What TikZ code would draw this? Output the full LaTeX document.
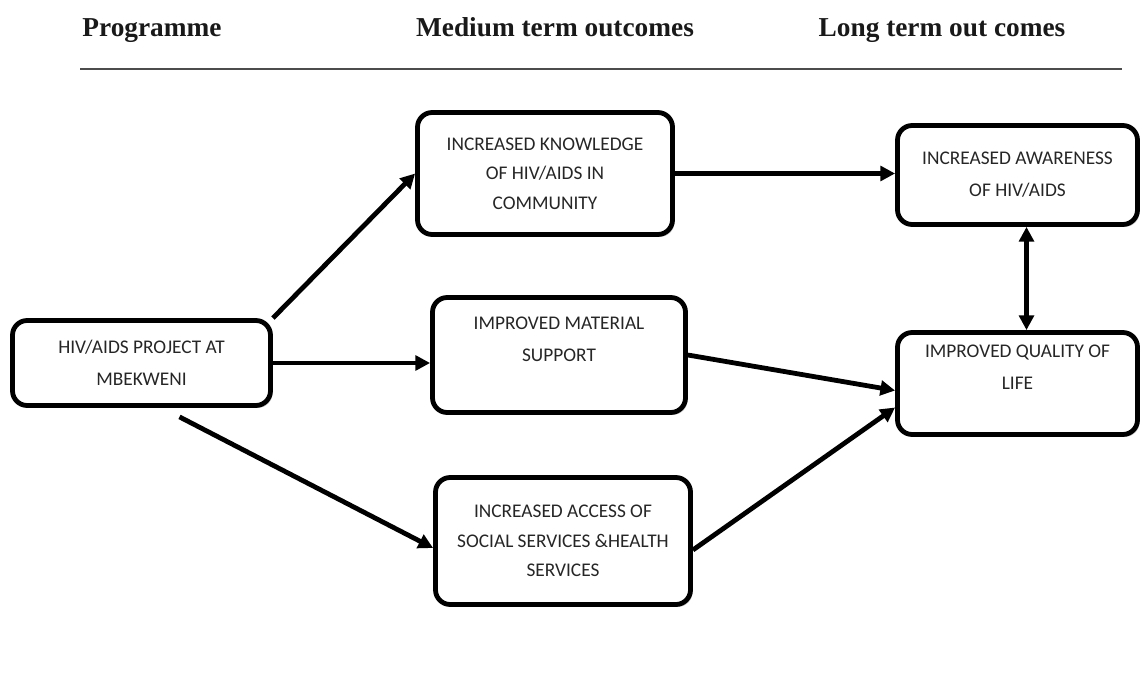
\documentclass[tikz,border=0pt]{standalone}
\usepackage{fontspec}
\setmainfont{Carlito}
\newfontfamily\headfont{Liberation Serif}
\usetikzlibrary{arrows.meta, positioning, calc, shadows}

\tikzset{
  outbox/.style={draw=black, line width=3.6pt, rounded corners=11pt, fill=white,
    drop shadow={shadow xshift=1.5pt, shadow yshift=-1.8pt, opacity=.45, fill=gray},
    align=center, font=\fontsize{14.5}{24}\selectfont, text=black!85},
  tightbox/.style={outbox, font=\fontsize{14.5}{22}\selectfont},
  headtext/.style={anchor=base, font=\headfont\bfseries\fontsize{20.5}{22}\selectfont, text=black!90},
  link/.style={line width=3.6pt, -{Triangle[length=11pt, width=11pt]}},
  twolink/.style={line width=3.6pt, {Triangle[length=11pt, width=11pt]}-{Triangle[length=11pt, width=11pt]}}
}

\begin{document}
\begin{tikzpicture}[x=0.75pt, y=-0.75pt]
  \useasboundingbox (0,0) rectangle (1142,681);

  % Column headings
  \node[headtext] (hprog) at (152,37) {Programme};
  \node[headtext] (hmed) at (555,37) {Medium term outcomes};
  \node[headtext] (hlong) at (942,37) {Long term out comes};
  \coordinate (ruleL) at (80,69);
  \coordinate (ruleR) at (1122,69);
  \draw[line width=1.6pt, black!70] (ruleL) -- (ruleR);

  % Programme
  \node[outbox, minimum width=193.5pt, minimum height=63.75pt] (prog) at (141.5,363)
    {HIV/AIDS PROJECT AT\\MBEKWENI};

  % Medium term outcomes
  \node[tightbox, minimum width=191.25pt, minimum height=91.5pt] (know) at (545,173.5)
    {INCREASED KNOWLEDGE\\OF HIV/AIDS IN\\COMMUNITY};
  \node[outbox, minimum width=189.75pt, minimum height=86.25pt] (mat) at (559,355)
    {IMPROVED MATERIAL\\SUPPORT\\\mbox{}};
  \node[tightbox, minimum width=191.25pt, minimum height=95.25pt] (acc) at (563,541)
    {INCREASED ACCESS OF\\SOCIAL SERVICES \&HEALTH\\SERVICES};

  % Long term outcomes
  \node[outbox, minimum width=180pt, minimum height=74.25pt] (aware) at (1017.5,175)
    {INCREASED AWARENESS\\OF HIV/AIDS};
  \node[outbox, minimum width=180pt, minimum height=76.5pt] (qual) at (1017.5,383.5)
    {IMPROVED QUALITY OF\\LIFE\\\mbox{}};

  % Links
  \draw[link] (prog.north east) -- (know.west);
  \draw[link] (prog.east) -- (prog.east -| mat.west);
  \draw[link] ($(prog.south)+(38,9)$) -- ($(acc.west)+(0,7)$);
  \draw[link] (know.east) -- (know.east -| aware.west);
  \draw[link] (mat.east) -- ($(qual.west)+(0,7)$);
  \draw[link] ($(acc.east)+(0,9)$) -- ($(qual.west)+(0,24)$);
  \draw[twolink] ($(aware.south)+(9,0)$) -- ($(qual.north)+(9,0)$);
\end{tikzpicture}
\end{document}
